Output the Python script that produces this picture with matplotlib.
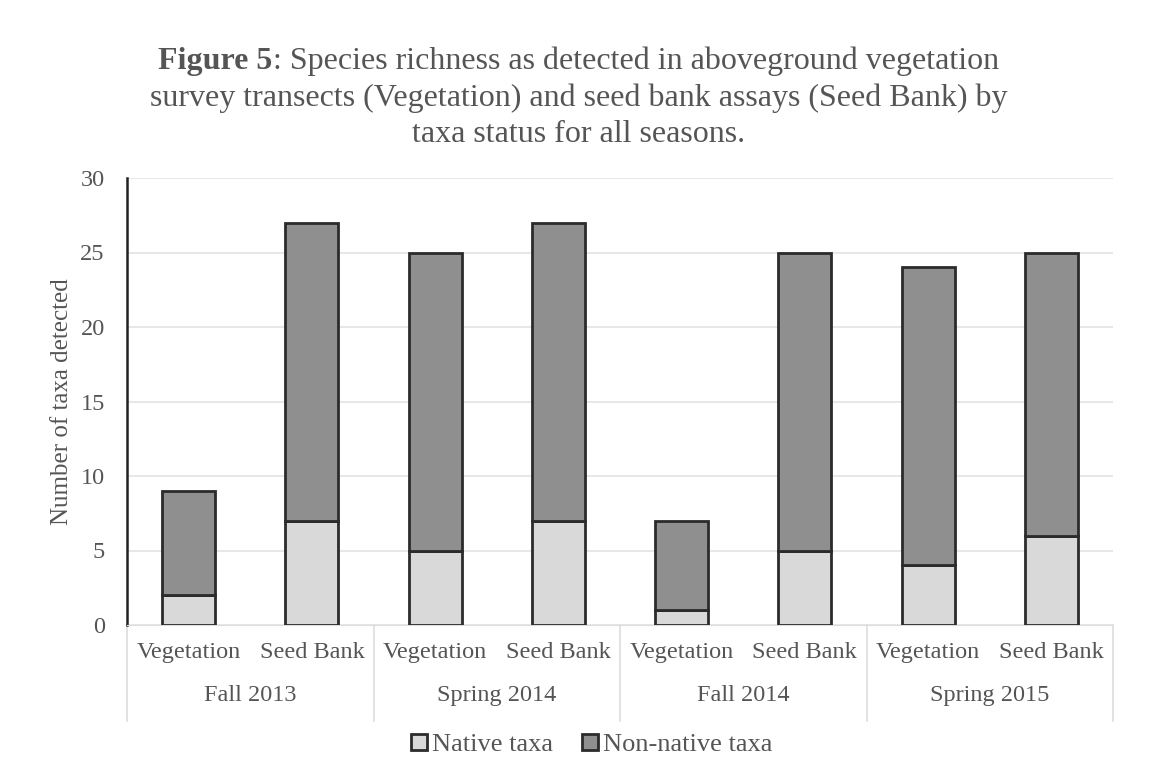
import matplotlib.pyplot as plt
import matplotlib.transforms as mtransforms

# species counts per survey type and season
seasons = ['Fall 2013', 'Spring 2014', 'Fall 2014', 'Spring 2015']
methods = ['Vegetation', 'Seed Bank']
native = [2, 7, 5, 7, 1, 5, 4, 6]
non_native = [7, 20, 20, 20, 6, 20, 20, 19]

plt.rcParams['font.family'] = ['Liberation Serif', 'DejaVu Serif']
txt = '#555555'
fs = 17.5

fig = plt.figure(figsize=(11.57, 7.77), dpi=100)
ax = fig.add_axes([127 / 1157, 1 - 625 / 777, 986 / 1157, 447 / 777])

labels = methods * len(seasons)
x = list(range(len(labels)))
ax.bar(x, native, width=0.43, color='#d9d9d9', edgecolor='#2b2b2b', linewidth=2,
       label='Native taxa', zorder=3)
ax.bar(x, non_native, width=0.43, bottom=native, color='#8f8f8f', edgecolor='#2b2b2b',
       linewidth=2, label='Non-native taxa', zorder=3)

ax.set_xlim(-0.5, len(labels) - 0.5)
ax.set_ylim(0, 30)
ax.set_yticks(range(0, 31, 5))
ax.yaxis.grid(True, color='#e3e3e3', linewidth=1.2)
ax.set_axisbelow(True)
for s in ['top', 'right']:
    ax.spines[s].set_visible(False)
ax.spines['bottom'].set_color('#dddddd')
ax.spines['left'].set_color('#222222')
ax.spines['left'].set_linewidth(1.8)
ax.tick_params(axis='y', length=0, pad=16, labelsize=fs, labelcolor=txt)
ax.tick_params(axis='x', length=0, pad=12, labelsize=fs, labelcolor=txt)
ax.set_xticks(x)
ax.set_xticklabels(labels)
ax.set_ylabel('Number of taxa detected', fontsize=18, color=txt, labelpad=5)

# season group labels and separators under the axis
trans = mtransforms.blended_transform_factory(ax.transData, ax.transAxes)
for i, season in enumerate(seasons):
    ax.text(2 * i + 0.5, -0.157, season, transform=trans, ha='center', va='center',
            fontsize=fs, color=txt)
for b in [-0.5, 1.5, 3.5, 5.5, 7.5]:
    ax.plot([b, b], [0, -0.215], transform=trans, color='#dddddd', linewidth=1.2,
            clip_on=False)

ax.legend(loc='center', bbox_to_anchor=(592 / 1157, 1 - 745 / 777),
          bbox_transform=fig.transFigure, ncol=2, frameon=False,
          fontsize=19, labelcolor=txt, handlelength=0.6, handleheight=0.6,
          handletextpad=0.2, columnspacing=1.1)

# title: bold figure number followed by regular text on three lines
fig.canvas.draw()
r = fig.canvas.get_renderer()
size = 23
first_b = 'Figure 5'
first_r = ': Species richness as detected in aboveground vegetation'
tb = fig.text(0, 0, first_b, fontsize=size, fontweight='bold', color=txt)
tr = fig.text(0, 0, first_r, fontsize=size, color=txt)
wb = tb.get_window_extent(r).width
wr = tr.get_window_extent(r).width
x0 = (1157 - wb - wr) / 2
tb.set_position((x0 / 1157, 1 - 61 / 777))
tb.set_va('center')
tr.set_position(((x0 + wb) / 1157, 1 - 61 / 777))
tr.set_va('center')
fig.text(0.5, 1 - 98 / 777, 'survey transects (Vegetation) and seed bank assays (Seed Bank) by',
         fontsize=size, color=txt, ha='center', va='center')
fig.text(0.5, 1 - 135 / 777, 'taxa status for all seasons.',
         fontsize=size, color=txt, ha='center', va='center')

fig.savefig('out.png', dpi=100)
